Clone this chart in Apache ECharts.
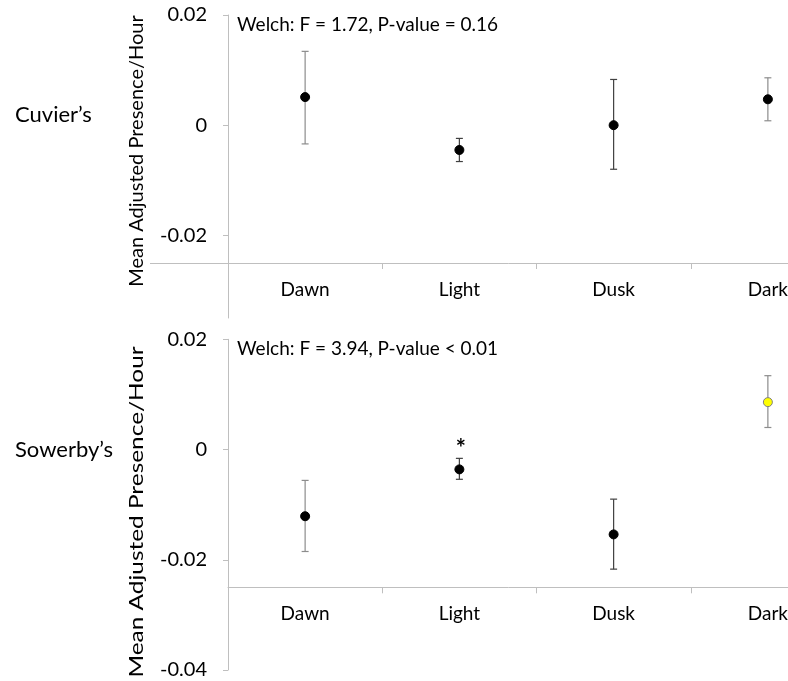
<!DOCTYPE html>
<html>
<head>
<meta charset="utf-8">
<script src="https://cdn.jsdelivr.net/npm/echarts@6/dist/echarts.min.js"></script>
<style>html,body{margin:0;padding:0;background:#fff;}#c{width:788px;height:681px;}</style>
</head>
<body>
<div id="c"></div>
<script>
// ---- data ----
const categories = ['Dawn', 'Light', 'Dusk', 'Dark'];
const cuvierMean = [0.0051, -0.0045, 0.0000, 0.0047];
const cuvierLow  = [-0.0034, -0.0066, -0.0080, 0.0008];
const cuvierHigh = [0.0134, -0.0024, 0.0083, 0.0086];
const sowerbyMean = [-0.0121, -0.0036, -0.0154, 0.0086];
const sowerbyLow  = [-0.0185, -0.0054, -0.0217, 0.0040];
const sowerbyHigh = [-0.0056, -0.0016, -0.0090, 0.0134];
const sowerbySig = ['', '*', '', ''];
const cuvierTicks = [-0.02, 0, 0.02];
const sowerbyTicks = [-0.04, -0.02, 0, 0.02];
const panelNames = ['Cuvier\u2019s', 'Sowerby\u2019s'];
const welchTexts = ['Welch: F = 1.72, P-value = 0.16', 'Welch: F = 3.94, P-value < 0.01'];
const yTitle = 'Mean Adjusted Presence/Hour';

// ---- styles ----
const FONT = 'Lato';
const AXIS_GRAY = '#bfbfbf';
const barColors = ['#8c8c8c', '#404040', '#404040', '#8c8c8c'];
const cuvierFill = ['#000', '#000', '#000', '#000'];
const sowerbyFill = ['#000', '#000', '#000', '#ffff00'];
const sowerbyBorder = ['#000', '#000', '#000', '#808080'];

const chart = echarts.init(document.getElementById('c'), null, {renderer: 'canvas'});

function errorSeries(xi, yi, low, high, sig) {
  return {
    type: 'custom', xAxisIndex: xi, yAxisIndex: yi, z: 2,
    data: categories.map((c, i) => [i, low[i], high[i]]),
    renderItem: function (params, api) {
      const i = api.value(0);
      const p1 = api.coord([i, api.value(1)]);
      const p2 = api.coord([i, api.value(2)]);
      const hw = 3.5;
      const col = barColors[i];
      const st = {stroke: col, lineWidth: 1.2};
      const children = [
        {type: 'line', shape: {x1: p1[0], y1: p1[1], x2: p2[0], y2: p2[1]}, style: st},
        {type: 'line', shape: {x1: p1[0] - hw, y1: p1[1], x2: p1[0] + hw, y2: p1[1]}, style: st},
        {type: 'line', shape: {x1: p2[0] - hw, y1: p2[1], x2: p2[0] + hw, y2: p2[1]}, style: st}
      ];
      if (sig && sig[i]) {
        children.push({type: 'text', x: p2[0] + 1.5, y: p2[1] - 9,
          style: {text: sig[i], fill: '#000', font: 'bold 24px ' + FONT, align: 'center', verticalAlign: 'middle'}});
      }
      return {type: 'group', children: children};
    }
  };
}

function pointSeries(xi, yi, vals, fills, borders) {
  return {
    type: 'scatter', xAxisIndex: xi, yAxisIndex: yi, z: 3,
    symbol: 'circle', symbolSize: 9,
    data: vals.map((v, i) => ({value: [i, v], itemStyle: {opacity: 1, color: fills[i], borderColor: borders ? borders[i] : fills[i], borderWidth: 1}}))
  };
}

const hiddenX = (g) => ({type: 'category', gridIndex: g, data: categories, show: false});
const shownX = (g) => ({
  type: 'category', gridIndex: g, data: categories,
  axisLine: {lineStyle: {color: AXIS_GRAY, width: 1}},
  axisTick: {show: true, length: 6, lineStyle: {color: AXIS_GRAY}},
  axisLabel: {color: '#000', fontFamily: FONT, fontSize: 19, margin: 17}
});
const hiddenY = (g) => ({type: 'value', gridIndex: g, show: false, min: 0, max: 1});
const baseY = {
  type: 'value',
  axisLine: {show: true, lineStyle: {color: AXIS_GRAY, width: 1}},
  axisTick: {show: true, length: 5, lineStyle: {color: AXIS_GRAY}},
  splitLine: {show: false},
  axisLabel: {color: '#000', fontFamily: FONT, fontSize: 20, margin: 21, formatter: v => String(+v.toFixed(4))}
};

const gridBase = {outerBoundsMode: 'none', containLabel: false, left: 228, width: 617};
const option = {
  backgroundColor: '#fff',
  animation: false,
  grid: [
    Object.assign({}, gridBase, {top: 15, height: 303}),
    Object.assign({}, gridBase, {top: 262, height: 1}),
    Object.assign({}, gridBase, {top: 339.3, height: 330.7}),
    Object.assign({}, gridBase, {top: 586.3, height: 1})
  ],
  xAxis: [hiddenX(0), shownX(1), hiddenX(2), shownX(3)],
  yAxis: [
    Object.assign({}, baseY, {gridIndex: 0, min: -0.035, max: 0.02,
      axisTick: Object.assign({}, baseY.axisTick, {customValues: cuvierTicks}),
      axisLabel: Object.assign({}, baseY.axisLabel, {customValues: cuvierTicks})}),
    hiddenY(1),
    Object.assign({}, baseY, {gridIndex: 2, min: -0.04, max: 0.02, interval: 0.02}),
    hiddenY(3)
  ],
  series: [
    errorSeries(0, 0, cuvierLow, cuvierHigh, null),
    pointSeries(0, 0, cuvierMean, cuvierFill, null),
    errorSeries(2, 2, sowerbyLow, sowerbyHigh, sowerbySig),
    pointSeries(2, 2, sowerbyMean, sowerbyFill, sowerbyBorder)
  ]
};
chart.setOption(option);

// overlay texts and extended baseline of top panel
const yTopBase = chart.convertToPixel({yAxisIndex: 0}, -0.025);
const yTop0 = chart.convertToPixel({yAxisIndex: 0}, 0.02);
const yBot0 = chart.convertToPixel({yAxisIndex: 2}, 0.02);
const yTopZero = chart.convertToPixel({yAxisIndex: 0}, 0);
const yBotZero = chart.convertToPixel({yAxisIndex: 2}, 0);
chart.setOption({
  graphic: [
    {type: 'line', shape: {x1: 150, y1: Math.round(yTopBase) + 0.5, x2: 228, y2: Math.round(yTopBase) + 0.5}, style: {stroke: AXIS_GRAY, lineWidth: 1}},
    {type: 'text', x: 237, y: yTop0 + 10, style: {text: welchTexts[0], fill: '#000', font: '19px ' + FONT, verticalAlign: 'middle'}},
    {type: 'text', x: 237, y: yBot0 + 10, style: {text: welchTexts[1], fill: '#000', font: '19px ' + FONT, verticalAlign: 'middle'}},
    {type: 'text', x: 15, y: yTopZero - 10, style: {text: panelNames[0], fill: '#000', font: '22px ' + FONT, verticalAlign: 'middle'}},
    {type: 'text', x: 15, y: yBotZero, style: {text: panelNames[1], fill: '#000', font: '22px ' + FONT, verticalAlign: 'middle'}},
    {type: 'text', x: 137, y: 151, rotation: Math.PI / 2, style: {text: yTitle, fill: '#000', font: '20px ' + FONT, align: 'center', verticalAlign: 'middle'}},
    {type: 'text', x: 137, y: 512, rotation: Math.PI / 2, scaleX: 1.22, style: {text: yTitle, fill: '#000', font: '20px ' + FONT, align: 'center', verticalAlign: 'middle'}}
  ]
});
</script>
</body>
</html>
